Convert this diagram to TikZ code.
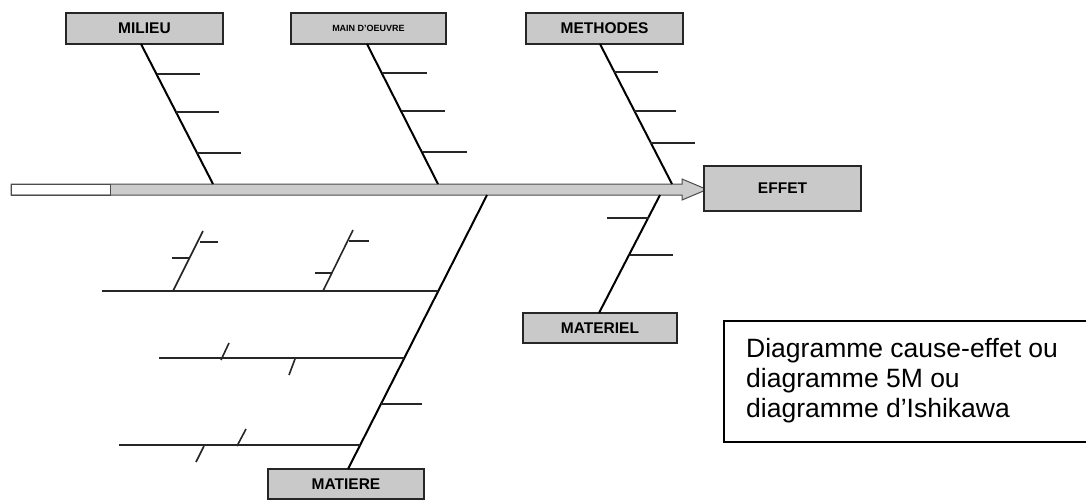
\documentclass[tikz,border=0pt]{standalone}
\usepackage{fontspec}
\setmainfont{Liberation Sans}
\begin{document}
\begin{tikzpicture}[x=1pt,y=-1pt,
  catbox/.style={draw=black!85, line width=1.4pt, fill=black!21, minimum width=157pt,
    minimum height=31pt, inner sep=0pt, font=\fontsize{15.5}{18}\selectfont\bfseries},
  bone/.style={line width=2pt, black},
  twig/.style={line width=1.2pt, black!85},
  note/.style={anchor=base west, inner sep=0pt, font=\fontsize{26.5}{30}\selectfont}]
\useasboundingbox (0,0) rectangle (1086,499);
\fill[white] (0,0) rectangle (1086,499);

% spine arrow
\path[draw=black!70, line width=1pt, fill=black!20]
  (11,184) -- (682,184) -- (682,179) -- (707,189.5) -- (682,200) -- (682,195) -- (11,195) -- cycle;
\fill[white] (11.6,184.6) rectangle (110,194.4);
\draw[black!70, line width=1pt] (11,184) rectangle (110,195);

% category boxes
\node[catbox] (milieu) at (144.5,28.5) {MILIEU};
\node[catbox, minimum width=155pt, font=\fontsize{9}{10}\selectfont\bfseries] (main) at (368.5,28.5) {MAIN D'OEUVRE};
\node[catbox] (methodes) at (604.5,28.5) {METHODES};
\node[catbox, minimum height=45pt] (effet) at (782.5,188.5) {EFFET};
\node[catbox, minimum width=154pt, minimum height=30pt] (materiel) at (600,328) {MATERIEL};
\node[catbox, minimum width=156pt, minimum height=30pt] (matiere) at (346,484) {MATIERE};

% bone end points
\coordinate (mi0) at (141,44);  \coordinate (mi1) at (213,184);
\coordinate (ma0) at (367,44);  \coordinate (ma1) at (438,184);
\coordinate (me0) at (600,44);  \coordinate (me1) at (672,184);
\coordinate (mt0) at (660,195); \coordinate (mt1) at (599,313);
\coordinate (mr0) at (487,195); \coordinate (mr1) at (348,469);

% upper bones
\draw[bone] (mi0) -- (mi1);
\draw[bone] (ma0) -- (ma1);
\draw[bone] (me0) -- (me1);
% lower bones
\draw[bone] (mt0) -- (mt1);
\draw[bone] (mr0) -- (mr1);

% twigs on MILIEU
\draw[twig] (157,74) -- (200,74);
\draw[twig] (176,112) -- (219,112);
\draw[twig] (197,153) -- (241,153);
% twigs on MAIN D'OEUVRE
\draw[twig] (382,73) -- (427,73);
\draw[twig] (402,111) -- (445,111);
\draw[twig] (423,152) -- (467,152);
% twigs on METHODES
\draw[twig] (614,72) -- (658,72);
\draw[twig] (634,111) -- (676,111);
\draw[twig] (650,143) -- (695,143);
% twigs on MATERIEL
\draw[twig] (607,218) -- (649,218);
\draw[twig] (630,255) -- (673,255);

% MATIERE branches
\draw[twig, line width=1.4pt] (102,291) -- (438,291);
\draw[twig, line width=1.4pt] (159,358) -- (404,358);
\draw[twig, line width=1.4pt] (119,445) -- (360,445);
\draw[twig] (381,404) -- (422,404);

% sub-branches of first branch
\draw[twig, line width=1.6pt] (173,291) -- (203,231);
\draw[twig] (200,242) -- (218,242);
\draw[twig] (172,258) -- (190,258);
\draw[twig, line width=1.6pt] (323,291) -- (353,230);
\draw[twig] (349,241) -- (369,241);
\draw[twig] (315,273) -- (332,273);

% small slashes
\draw[twig, line width=1.6pt] (221,360) -- (229,343);
\draw[twig, line width=1.6pt] (289,375) -- (295,359);
\draw[twig, line width=1.6pt] (237,446) -- (246,429);
\draw[twig, line width=1.6pt] (196,462) -- (204,446);

% caption box
\draw[line width=1.3pt] (1086,321) -- (724,321) -- (724,442) -- (1086,442);
\node[note] (c1) at (746,357) {Diagramme cause-effet ou};
\node[note] (c2) at (746,387) {diagramme 5M ou};
\node[note] (c3) at (746,417) {diagramme d’Ishikawa};
\end{tikzpicture}
\end{document}
